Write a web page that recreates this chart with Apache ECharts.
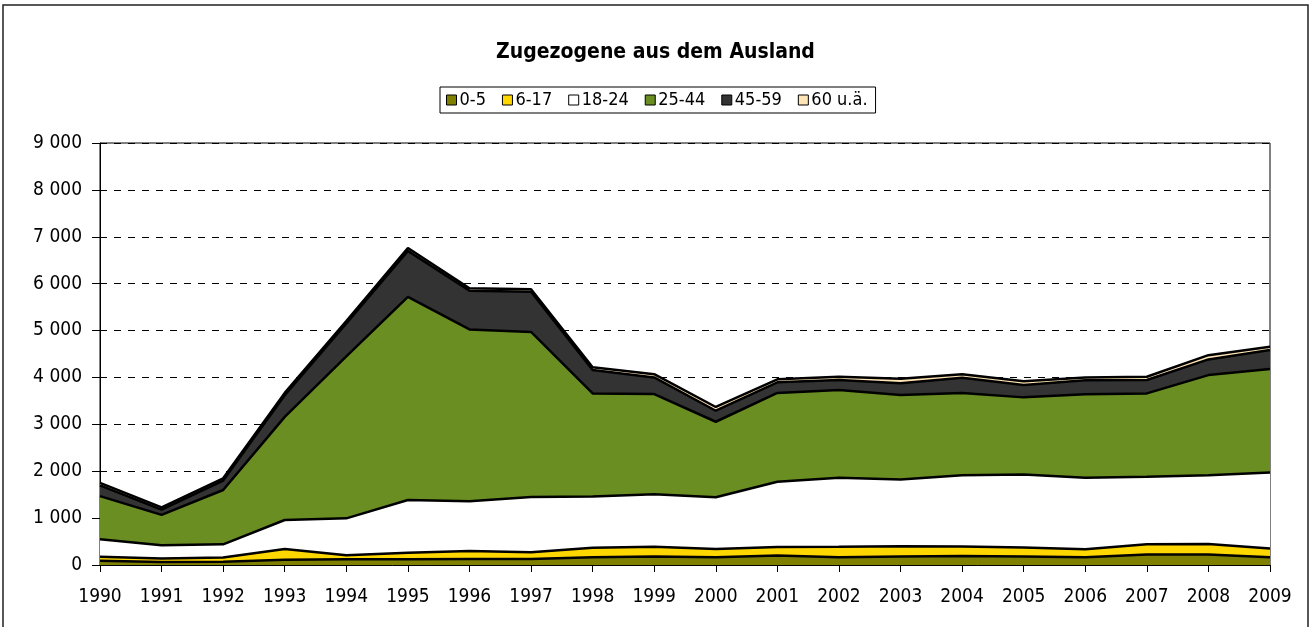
<!DOCTYPE html>
<html>
<head>
<meta charset="utf-8">
<script src="https://cdn.jsdelivr.net/npm/echarts@6/dist/echarts.min.js"></script>
<style>
  html, body { margin: 0; padding: 0; background: #fff; }
  #chart { width: 1311px; height: 627px; }
</style>
</head>
<body>
<div id="chart"></div>
<script>
// Zuzüge aus dem Ausland nach Altersgruppen, 1990–2009
const years = ['1990','1991','1992','1993','1994','1995','1996','1997','1998','1999',
               '2000','2001','2002','2003','2004','2005','2006','2007','2008','2009'];

const age0to5   = [90, 65, 70, 110, 120, 125, 130, 130, 165, 180, 165, 200, 165, 180, 190, 180, 165, 225, 225, 165];
const age6to17  = [85, 75, 90, 230, 90, 135, 170, 140, 205, 210, 175, 185, 225, 220, 205, 195, 170, 215, 225, 185];
const age18to24 = [375, 280, 280, 620, 785, 1125, 1060, 1180, 1090, 1120, 1105, 1390, 1470, 1425, 1520, 1555, 1525, 1440, 1465, 1625];
const age25to44 = [920, 650, 1160, 2200, 3455, 4335, 3665, 3520, 2200, 2135, 1610, 1895, 1870, 1800, 1755, 1645, 1780, 1780, 2135, 2205];
const age45to59 = [230, 110, 200, 460, 700, 980, 825, 860, 500, 355, 235, 225, 215, 250, 325, 265, 300, 285, 335, 405];
const age60plus = [50, 50, 50, 50, 50, 60, 50, 50, 55, 70, 80, 65, 70, 95, 75, 80, 60, 70, 90, 70];

const groups = [
  { name: '0-5',     data: age0to5,   color: '#808000' },
  { name: '6-17',    data: age6to17,  color: '#FFD700' },
  { name: '18-24',   data: age18to24, color: '#FFFFFF' },
  { name: '25-44',   data: age25to44, color: '#6B8E23' },
  { name: '45-59',   data: age45to59, color: '#333333' },
  { name: '60 u.ä.', data: age60plus, color: '#FFE4B5' }
];

const FONT = '"Liberation Sans Narrow", "DejaVu Sans Condensed", "Liberation Sans", sans-serif';

const chart = echarts.init(document.getElementById('chart'), null, { renderer: 'canvas' });

chart.setOption({
  animation: false,
  backgroundColor: '#fff',
  graphic: [{
    type: 'rect',
    shape: { x: 3, y: 5, width: 1305, height: 700 },
    style: { fill: 'none', stroke: '#222', lineWidth: 1.5 },
    silent: true
  }],
  title: {
    text: 'Zugezogene aus dem Ausland',
    left: 'center',
    top: 37,
    textStyle: { fontFamily: FONT, fontSize: 21, fontWeight: 'bold', color: '#000' }
  },
  legend: {
    left: 440,
    top: 87,
    orient: 'horizontal',
    padding: [4, 8, 4, 6],
    borderColor: '#000',
    borderWidth: 1,
    itemWidth: 10,
    itemHeight: 10,
    itemGap: 16,
    icon: 'rect',
    textStyle: { fontFamily: FONT, fontSize: 18, color: '#000', padding: [0, 0, 0, -2] },
    data: groups.map(g => ({
      name: g.name,
      itemStyle: { color: g.color, borderColor: '#000', borderWidth: 1 }
    }))
  },
  grid: {
    left: 100,
    right: 41,
    top: 143,
    bottom: 62,
    show: true,
    borderColor: '#000',
    borderWidth: 1,
    containLabel: false
  },
  xAxis: {
    type: 'category',
    data: years,
    boundaryGap: false,
    axisLine: { lineStyle: { color: '#000', width: 1 } },
    axisTick: { show: true, length: 7, lineStyle: { color: '#000' } },
    axisLabel: { fontFamily: FONT, fontSize: 19, color: '#000', margin: 23 },
    splitLine: { show: false }
  },
  yAxis: {
    type: 'value',
    min: 0,
    max: 9000,
    interval: 1000,
    axisLine: { show: true, lineStyle: { color: '#000', width: 1 } },
    axisTick: { show: true, length: 8, lineStyle: { color: '#000' } },
    axisLabel: {
      fontFamily: FONT, fontSize: 19, color: '#000', margin: 18,
      formatter: v => String(v).replace(/\B(?=(\d{3})+(?!\d))/g, ' ')
    },
    splitLine: { show: true, lineStyle: { color: '#000', type: [7, 7], width: 1 } }
  },
  series: groups.map(g => ({
    name: g.name,
    type: 'line',
    stack: 'total',
    data: g.data,
    symbol: 'none',
    smooth: false,
    itemStyle: { color: g.color },
    lineStyle: { color: '#000', width: 2.5 },
    areaStyle: { color: g.color, opacity: 1 }
  }))
});
</script>
</body>
</html>
